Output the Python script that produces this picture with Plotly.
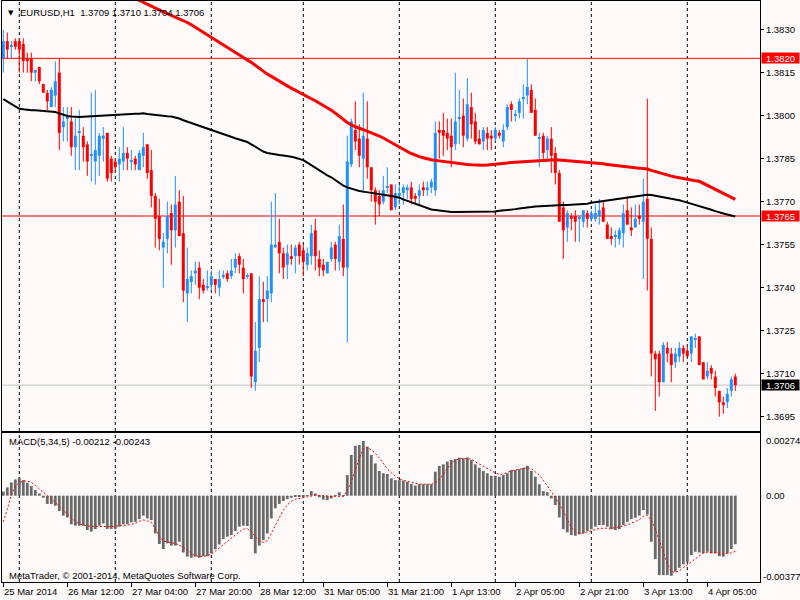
import pandas as pd
import plotly.graph_objects as go

FONT = "Liberation Sans"
SYMBOL_TITLE = "EURUSD,H1\u00a0 1.3709 1.3710 1.3704 1.3706"
MACD_TITLE = "MACD(5,34,5) -0.00212 -0.00243"
COPYRIGHT = "MetaTrader, © 2001-2014, MetaQuotes Software Corp."

# hourly bars shown on the chart (Friday closes 22:00, Monday opens 00:00)
SESSIONS = [("2014-03-25 20:00", "2014-03-28 22:00"),
            ("2014-03-31 00:00", "2014-04-04 12:00")]

OPEN = [
    1.3820, 1.3826, 1.3824, 1.3826, 1.3826, 1.3825, 1.3820, 1.3820, 1.3815, 1.3817,
    1.3811, 1.3808, 1.3803, 1.3807, 1.3815, 1.3796, 1.3799, 1.3798, 1.3789, 1.3794,
    1.3793, 1.3790, 1.3786, 1.3784, 1.3786, 1.3792, 1.3794, 1.3785, 1.3784, 1.3783,
    1.3784, 1.3787, 1.3784, 1.3785, 1.3781, 1.3786, 1.3790, 1.3781, 1.3772, 1.3765,
    1.3754, 1.3757, 1.3766, 1.3760, 1.3770, 1.3759, 1.3738, 1.3742, 1.3745, 1.3747,
    1.3741, 1.3740, 1.3741, 1.3743, 1.3740, 1.3744, 1.3745, 1.3744, 1.3747, 1.3751,
    1.3747, 1.3744, 1.3745, 1.3707, 1.3719, 1.3736, 1.3736, 1.3738, 1.3754, 1.3756,
    1.3752, 1.3748, 1.3751, 1.3751, 1.3755, 1.3753, 1.3748, 1.3751, 1.3760, 1.3750,
    1.3748, 1.3745, 1.3750, 1.3755, 1.3749, 1.3757, 1.3747, 1.3783, 1.3795, 1.3792,
    1.3785, 1.3792, 1.3782, 1.3774, 1.3772, 1.3770, 1.3775, 1.3776, 1.3768, 1.3772,
    1.3773, 1.3774, 1.3775, 1.3772, 1.3772, 1.3775, 1.3774, 1.3775, 1.3774, 1.3795,
    1.3795, 1.3794, 1.3793, 1.3790, 1.3799, 1.3800, 1.3792, 1.3803, 1.3798, 1.3792,
    1.3791, 1.3794, 1.3793, 1.3792, 1.3794, 1.3791, 1.3796, 1.3804, 1.3800, 1.3801,
    1.3806, 1.3807, 1.3809, 1.3802, 1.3792, 1.3793, 1.3788, 1.3792, 1.3787, 1.3780,
    1.3768, 1.3761, 1.3765, 1.3765, 1.3764, 1.3763, 1.3766, 1.3764, 1.3764, 1.3765,
    1.3768, 1.3762, 1.3758, 1.3758, 1.3757, 1.3759, 1.3767, 1.3761, 1.3761, 1.3765,
    1.3763, 1.3771, 1.3757, 1.3717, 1.3717, 1.3707, 1.3719, 1.3717, 1.3714, 1.3716,
    1.3719, 1.3718, 1.3717, 1.3722, 1.3723, 1.3714, 1.3709, 1.3712, 1.3709, 1.3704,
    1.3700, 1.3700, 1.3704, 1.3709,
]
HIGH = [
    1.3830, 1.3829, 1.3826, 1.3827, 1.3827, 1.3827, 1.3822, 1.3822, 1.3816, 1.3817,
    1.3811, 1.3809, 1.3810, 1.3819, 1.3820, 1.3803, 1.3803, 1.3803, 1.3799, 1.3802,
    1.3796, 1.3791, 1.3808, 1.3809, 1.3794, 1.3796, 1.3794, 1.3786, 1.3785, 1.3789,
    1.3796, 1.3789, 1.3788, 1.3786, 1.3788, 1.3794, 1.3790, 1.3788, 1.3773, 1.3771,
    1.3759, 1.3770, 1.3769, 1.3779, 1.3774, 1.3772, 1.3754, 1.3746, 1.3749, 1.3749,
    1.3743, 1.3746, 1.3746, 1.3743, 1.3746, 1.3746, 1.3746, 1.3750, 1.3752, 1.3752,
    1.3750, 1.3745, 1.3745, 1.3728, 1.3744, 1.3742, 1.3744, 1.3770, 1.3773, 1.3764,
    1.3754, 1.3755, 1.3755, 1.3755, 1.3756, 1.3755, 1.3754, 1.3762, 1.3764, 1.3753,
    1.3750, 1.3749, 1.3756, 1.3756, 1.3762, 1.3769, 1.3793, 1.3799, 1.3805, 1.3797,
    1.3808, 1.3805, 1.3782, 1.3775, 1.3774, 1.3779, 1.3782, 1.3776, 1.3776, 1.3776,
    1.3776, 1.3776, 1.3777, 1.3773, 1.3776, 1.3777, 1.3777, 1.3778, 1.3798, 1.3798,
    1.3801, 1.3799, 1.3799, 1.3815, 1.3809, 1.3806, 1.3813, 1.3808, 1.3801, 1.3795,
    1.3796, 1.3796, 1.3795, 1.3796, 1.3795, 1.3797, 1.3804, 1.3805, 1.3802, 1.3806,
    1.3811, 1.3820, 1.3811, 1.3806, 1.3794, 1.3794, 1.3793, 1.3796, 1.3789, 1.3781,
    1.3770, 1.3767, 1.3766, 1.3767, 1.3765, 1.3767, 1.3767, 1.3767, 1.3769, 1.3771,
    1.3770, 1.3763, 1.3761, 1.3760, 1.3761, 1.3769, 1.3772, 1.3768, 1.3769, 1.3769,
    1.3778, 1.3806, 1.3761, 1.3718, 1.3718, 1.3721, 1.3721, 1.3719, 1.3719, 1.3721,
    1.3720, 1.3720, 1.3723, 1.3724, 1.3723, 1.3714, 1.3714, 1.3713, 1.3711, 1.3704,
    1.3702, 1.3705, 1.3709, 1.3710,
]
LOW = [
    1.3815, 1.3820, 1.3820, 1.3823, 1.3815, 1.3815, 1.3815, 1.3812, 1.3812, 1.3811,
    1.3808, 1.3802, 1.3803, 1.3803, 1.3788, 1.3791, 1.3791, 1.3786, 1.3781, 1.3781,
    1.3784, 1.3779, 1.3777, 1.3776, 1.3779, 1.3784, 1.3777, 1.3777, 1.3780, 1.3777,
    1.3781, 1.3781, 1.3781, 1.3781, 1.3781, 1.3782, 1.3778, 1.3768, 1.3754, 1.3753,
    1.3740, 1.3752, 1.3748, 1.3754, 1.3758, 1.3735, 1.3728, 1.3738, 1.3741, 1.3736,
    1.3738, 1.3739, 1.3739, 1.3738, 1.3737, 1.3743, 1.3742, 1.3743, 1.3745, 1.3745,
    1.3738, 1.3743, 1.3705, 1.3704, 1.3714, 1.3728, 1.3728, 1.3735, 1.3754, 1.3745,
    1.3743, 1.3743, 1.3748, 1.3745, 1.3748, 1.3744, 1.3746, 1.3748, 1.3746, 1.3744,
    1.3744, 1.3745, 1.3749, 1.3746, 1.3746, 1.3744, 1.3721, 1.3782, 1.3788, 1.3782,
    1.3773, 1.3778, 1.3770, 1.3762, 1.3765, 1.3769, 1.3773, 1.3767, 1.3767, 1.3769,
    1.3769, 1.3771, 1.3769, 1.3769, 1.3769, 1.3772, 1.3772, 1.3773, 1.3772, 1.3785,
    1.3786, 1.3788, 1.3782, 1.3788, 1.3790, 1.3789, 1.3791, 1.3792, 1.3790, 1.3790,
    1.3788, 1.3788, 1.3788, 1.3791, 1.3792, 1.3789, 1.3795, 1.3798, 1.3798, 1.3799,
    1.3799, 1.3804, 1.3801, 1.3793, 1.3782, 1.3785, 1.3784, 1.3780, 1.3776, 1.3763,
    1.3750, 1.3756, 1.3760, 1.3756, 1.3756, 1.3761, 1.3761, 1.3763, 1.3763, 1.3762,
    1.3763, 1.3757, 1.3755, 1.3754, 1.3755, 1.3754, 1.3762, 1.3758, 1.3761, 1.3762,
    1.3743, 1.3739, 1.3709, 1.3697, 1.3702, 1.3707, 1.3714, 1.3707, 1.3712, 1.3714,
    1.3714, 1.3716, 1.3714, 1.3719, 1.3713, 1.3708, 1.3708, 1.3708, 1.3702, 1.3695,
    1.3696, 1.3698, 1.3702, 1.3704,
]
CLOSE = [
    1.3826, 1.3823, 1.3824, 1.3824, 1.3823, 1.3819, 1.3819, 1.3815, 1.3816, 1.3812,
    1.3808, 1.3805, 1.3809, 1.3812, 1.3794, 1.3798, 1.3799, 1.3789, 1.3793, 1.3794,
    1.3789, 1.3784, 1.3786, 1.3788, 1.3793, 1.3793, 1.3778, 1.3780, 1.3782, 1.3785,
    1.3787, 1.3785, 1.3784, 1.3783, 1.3787, 1.3789, 1.3780, 1.3772, 1.3764, 1.3757,
    1.3756, 1.3765, 1.3760, 1.3769, 1.3758, 1.3739, 1.3743, 1.3744, 1.3746, 1.3740,
    1.3739, 1.3740, 1.3744, 1.3741, 1.3743, 1.3744, 1.3743, 1.3746, 1.3750, 1.3748,
    1.3743, 1.3744, 1.3709, 1.3718, 1.3736, 1.3735, 1.3739, 1.3755, 1.3755, 1.3752,
    1.3747, 1.3752, 1.3750, 1.3754, 1.3751, 1.3749, 1.3752, 1.3759, 1.3751, 1.3747,
    1.3746, 1.3749, 1.3754, 1.3750, 1.3758, 1.3747, 1.3784, 1.3798, 1.3791, 1.3786,
    1.3793, 1.3782, 1.3774, 1.3770, 1.3769, 1.3774, 1.3775, 1.3767, 1.3773, 1.3773,
    1.3775, 1.3775, 1.3771, 1.3771, 1.3774, 1.3774, 1.3775, 1.3777, 1.3794, 1.3794,
    1.3793, 1.3792, 1.3789, 1.3798, 1.3799, 1.3793, 1.3804, 1.3797, 1.3791, 1.3790,
    1.3795, 1.3792, 1.3792, 1.3795, 1.3793, 1.3795, 1.3803, 1.3802, 1.3800, 1.3805,
    1.3806, 1.3810, 1.3801, 1.3793, 1.3792, 1.3787, 1.3792, 1.3786, 1.3780, 1.3763,
    1.3760, 1.3766, 1.3764, 1.3763, 1.3764, 1.3767, 1.3764, 1.3766, 1.3766, 1.3767,
    1.3763, 1.3757, 1.3757, 1.3758, 1.3760, 1.3766, 1.3762, 1.3760, 1.3764, 1.3764,
    1.3770, 1.3757, 1.3717, 1.3715, 1.3707, 1.3720, 1.3717, 1.3713, 1.3717, 1.3719,
    1.3717, 1.3716, 1.3723, 1.3722, 1.3713, 1.3708, 1.3711, 1.3710, 1.3705, 1.3700,
    1.3699, 1.3703, 1.3708, 1.3706,
]

# red moving average enters the visible window at bar 33
MA_RED = [None] * 33 + [
    1.38409, 1.38402, 1.38396, 1.38389, 1.38382, 1.38375, 1.38368,
    1.38362, 1.38356, 1.38350, 1.38343, 1.38337, 1.38331, 1.38325, 1.38317, 1.38308, 1.38299,
    1.38290, 1.38281, 1.38272, 1.38263, 1.38254, 1.38245, 1.38236, 1.38227, 1.38218, 1.38209,
    1.38201, 1.38194, 1.38186, 1.38175, 1.38164, 1.38153, 1.38145, 1.38137, 1.38128, 1.38120,
    1.38112, 1.38104, 1.38096, 1.38088, 1.38080, 1.38073, 1.38066, 1.38059, 1.38052, 1.38044,
    1.38036, 1.38028, 1.38019, 1.38009, 1.37998, 1.37986, 1.37976, 1.37968, 1.37961, 1.37956,
    1.37951, 1.37946, 1.37941, 1.37935, 1.37929, 1.37922, 1.37914, 1.37905, 1.37896, 1.37888,
    1.37881, 1.37875, 1.37868, 1.37862, 1.37857, 1.37853, 1.37849, 1.37846, 1.37844, 1.37842,
    1.37840, 1.37838, 1.37836, 1.37835, 1.37833, 1.37831, 1.37830, 1.37829, 1.37828, 1.37827,
    1.37827, 1.37828, 1.37829, 1.37830, 1.37832, 1.37833, 1.37835, 1.37837, 1.37838, 1.37839,
    1.37840, 1.37841, 1.37842, 1.37843, 1.37844, 1.37845, 1.37846, 1.37846, 1.37846, 1.37845,
    1.37844, 1.37843, 1.37842, 1.37841, 1.37840, 1.37839, 1.37838, 1.37836, 1.37835, 1.37833,
    1.37832, 1.37830, 1.37828, 1.37826, 1.37824, 1.37822, 1.37820, 1.37819, 1.37818, 1.37817,
    1.37816, 1.37814, 1.37809, 1.37805, 1.37800, 1.37795, 1.37792, 1.37789, 1.37786, 1.37783,
    1.37780, 1.37778, 1.37775, 1.37773, 1.37771, 1.37764, 1.37757, 1.37750, 1.37742, 1.37735,
    1.37728, 1.37721, 1.37714, 1.37708,
]
MA_BLACK = [
    1.38058, 1.38050, 1.38042, 1.38032, 1.38024, 1.38022, 1.38020, 1.38019, 1.38019, 1.38018,
    1.38017, 1.38016, 1.38015, 1.38013, 1.38008, 1.38003, 1.37999, 1.37997, 1.37995, 1.37995,
    1.37996, 1.37997, 1.37998, 1.37999, 1.38000, 1.38001, 1.38002, 1.38003, 1.38003, 1.38004,
    1.38005, 1.38005, 1.38006, 1.38007, 1.38007, 1.38008, 1.38006, 1.38004, 1.38002, 1.38000,
    1.37999, 1.37998, 1.37997, 1.37994, 1.37990, 1.37984, 1.37979, 1.37974, 1.37969, 1.37965,
    1.37960, 1.37955, 1.37950, 1.37945, 1.37940, 1.37935, 1.37931, 1.37926, 1.37921, 1.37917,
    1.37913, 1.37908, 1.37900, 1.37892, 1.37884, 1.37875, 1.37870, 1.37867, 1.37865, 1.37863,
    1.37861, 1.37860, 1.37857, 1.37853, 1.37849, 1.37845, 1.37836, 1.37827, 1.37817, 1.37808,
    1.37800, 1.37792, 1.37785, 1.37775, 1.37766, 1.37756, 1.37750, 1.37746, 1.37740, 1.37737,
    1.37735, 1.37733, 1.37731, 1.37730, 1.37727, 1.37725, 1.37722, 1.37720, 1.37717, 1.37714,
    1.37708, 1.37703, 1.37697, 1.37692, 1.37687, 1.37682, 1.37677, 1.37673, 1.37671, 1.37669,
    1.37666, 1.37664, 1.37664, 1.37664, 1.37664, 1.37664, 1.37664, 1.37664, 1.37664, 1.37664,
    1.37664, 1.37664, 1.37665, 1.37666, 1.37668, 1.37669, 1.37670, 1.37672, 1.37674, 1.37676,
    1.37677, 1.37679, 1.37681, 1.37683, 1.37684, 1.37685, 1.37686, 1.37687, 1.37688, 1.37688,
    1.37688, 1.37688, 1.37689, 1.37689, 1.37689, 1.37690, 1.37693, 1.37696, 1.37698, 1.37700,
    1.37702, 1.37704, 1.37706, 1.37708, 1.37710, 1.37713, 1.37715, 1.37717, 1.37719, 1.37721,
    1.37722, 1.37724, 1.37723, 1.37721, 1.37719, 1.37716, 1.37713, 1.37710, 1.37708, 1.37705,
    1.37701, 1.37697, 1.37694, 1.37690, 1.37686, 1.37682, 1.37677, 1.37672, 1.37667, 1.37662,
    1.37659, 1.37655, 1.37651, 1.37648,
]

MACD_MAIN = [
    0.00018, 0.00036, 0.00058, 0.00071, 0.00079, 0.00068, 0.00057, 0.00042, 0.00025, 0.00010,
    -0.00009, -0.00036, -0.00036, -0.00044, -0.00067, -0.00087, -0.00095, -0.00125, -0.00131, -0.00131,
    -0.00132, -0.00150, -0.00157, -0.00146, -0.00131, -0.00121, -0.00145, -0.00145, -0.00145, -0.00135,
    -0.00125, -0.00124, -0.00116, -0.00114, -0.00102, -0.00087, -0.00099, -0.00106, -0.00165, -0.00211,
    -0.00233, -0.00208, -0.00218, -0.00218, -0.00201, -0.00248, -0.00266, -0.00271, -0.00266, -0.00271,
    -0.00264, -0.00264, -0.00252, -0.00234, -0.00213, -0.00189, -0.00179, -0.00172, -0.00154, -0.00135,
    -0.00131, -0.00132, -0.00189, -0.00252, -0.00218, -0.00194, -0.00165, -0.00099, -0.00055, -0.00036,
    -0.00023, -0.00015, -0.00009, -0.00004, -0.00003, -0.00002, 0.00001, 0.00020, 0.00010, -0.00007,
    -0.00017, -0.00019, -0.00012, 0.00002, 0.00015, 0.00001, 0.00090, 0.00178, 0.00218, 0.00221,
    0.00239, 0.00214, 0.00178, 0.00141, 0.00108, 0.00098, 0.00095, 0.00076, 0.00068, 0.00068,
    0.00066, 0.00061, 0.00051, 0.00044, 0.00050, 0.00050, 0.00050, 0.00050, 0.00105, 0.00130,
    0.00137, 0.00149, 0.00156, 0.00160, 0.00166, 0.00163, 0.00167, 0.00156, 0.00137, 0.00122,
    0.00108, 0.00098, 0.00087, 0.00087, 0.00083, 0.00090, 0.00098, 0.00112, 0.00112, 0.00116,
    0.00122, 0.00131, 0.00108, 0.00083, 0.00050, 0.00020, 0.00015, -0.00012, -0.00041, -0.00095,
    -0.00146, -0.00160, -0.00172, -0.00175, -0.00169, -0.00165, -0.00154, -0.00146, -0.00135, -0.00128,
    -0.00128, -0.00135, -0.00147, -0.00150, -0.00146, -0.00128, -0.00114, -0.00102, -0.00096, -0.00087,
    -0.00063, -0.00082, -0.00201, -0.00277, -0.00347, -0.00347, -0.00347, -0.00350, -0.00332, -0.00315,
    -0.00300, -0.00291, -0.00259, -0.00245, -0.00248, -0.00252, -0.00245, -0.00252, -0.00252, -0.00264,
    -0.00266, -0.00252, -0.00233, -0.00212,
]
MACD_SIGNAL = [
    -0.00114, -0.00060, 0.00005, 0.00040, 0.00058, 0.00064, 0.00064, 0.00058, 0.00046, 0.00029,
    0.00014, 0.00002, -0.00013, -0.00028, -0.00046, -0.00062, -0.00080, -0.00096, -0.00113, -0.00123,
    -0.00129, -0.00132, -0.00134, -0.00135, -0.00135, -0.00136, -0.00135, -0.00135, -0.00134, -0.00133,
    -0.00131, -0.00128, -0.00125, -0.00121, -0.00112, -0.00106, -0.00110, -0.00116, -0.00145, -0.00175,
    -0.00198, -0.00203, -0.00206, -0.00208, -0.00215, -0.00225, -0.00236, -0.00252, -0.00263, -0.00265,
    -0.00265, -0.00262, -0.00255, -0.00242, -0.00228, -0.00212, -0.00196, -0.00182, -0.00172, -0.00158,
    -0.00146, -0.00144, -0.00158, -0.00178, -0.00198, -0.00204, -0.00196, -0.00164, -0.00128, -0.00092,
    -0.00063, -0.00040, -0.00025, -0.00016, -0.00012, -0.00008, -0.00005, -0.00001, 0.00002, 0.00001,
    -0.00001, -0.00003, -0.00004, -0.00004, -0.00003, -0.00004, 0.00025, 0.00060, 0.00112, 0.00165,
    0.00205, 0.00212, 0.00200, 0.00185, 0.00165, 0.00138, 0.00117, 0.00100, 0.00085, 0.00073,
    0.00067, 0.00063, 0.00058, 0.00054, 0.00050, 0.00050, 0.00050, 0.00050, 0.00057, 0.00070,
    0.00093, 0.00118, 0.00142, 0.00155, 0.00161, 0.00163, 0.00163, 0.00160, 0.00148, 0.00138,
    0.00127, 0.00118, 0.00107, 0.00100, 0.00093, 0.00094, 0.00102, 0.00108, 0.00113, 0.00116,
    0.00119, 0.00122, 0.00118, 0.00105, 0.00090, 0.00068, 0.00045, 0.00018, -0.00010, -0.00036,
    -0.00068, -0.00105, -0.00138, -0.00158, -0.00165, -0.00163, -0.00158, -0.00154, -0.00148, -0.00143,
    -0.00142, -0.00143, -0.00142, -0.00140, -0.00136, -0.00133, -0.00128, -0.00120, -0.00112, -0.00105,
    -0.00090, -0.00085, -0.00108, -0.00145, -0.00195, -0.00250, -0.00296, -0.00332, -0.00335, -0.00328,
    -0.00315, -0.00305, -0.00290, -0.00275, -0.00262, -0.00250, -0.00247, -0.00248, -0.00248, -0.00250,
    -0.00255, -0.00254, -0.00250, -0.00243,
]

TIME_LABELS = [
    ("2014-03-25 20:00", "25 Mar 2014"), ("2014-03-26 12:00", "26 Mar 12:00"),
    ("2014-03-27 04:00", "27 Mar 04:00"), ("2014-03-27 20:00", "27 Mar 20:00"),
    ("2014-03-28 12:00", "28 Mar 12:00"), ("2014-03-31 05:00", "31 Mar 05:00"),
    ("2014-03-31 21:00", "31 Mar 21:00"), ("2014-04-01 13:00", "1 Apr 13:00"),
    ("2014-04-02 05:00", "2 Apr 05:00"), ("2014-04-02 21:00", "2 Apr 21:00"),
    ("2014-04-03 13:00", "3 Apr 13:00"), ("2014-04-04 05:00", "4 Apr 05:00"),
]
PRICE_TICKS = [1.3695, 1.3710, 1.3725, 1.3740, 1.3755, 1.3770, 1.3785, 1.3800, 1.3815, 1.3830]
LEVEL_LINES = [1.3820, 1.3765]
LAST_PRICE = 1.3706
MACD_LABELS = [0.00274, 0.0, -0.00377]
MACD_LABEL_TEXT = ["0.00274", "0.00", "-0.00377"]

BULL = "#1E90FF"
BEAR = "#FF0000"
BG = "#FFFAFA"

times = []
for start, end in SESSIONS:
    times.extend(pd.date_range(start, end, freq="h"))
bars = list(range(len(times)))
day_starts = [i for i, t in enumerate(times) if t.hour == 0]
label_pos = {pd.Timestamp(t): i for i, t in enumerate(times)}
label_bars = [label_pos[pd.Timestamp(t)] for t, _ in TIME_LABELS]

fig = go.Figure()

# candle wicks and bodies, split by direction
for up, color in ((True, BULL), (False, BEAR)):
    idx = [i for i in bars if (CLOSE[i] >= OPEN[i]) == up]
    wx, wy = [], []
    for i in idx:
        wx += [i, i, None]
        wy += [LOW[i], HIGH[i], None]
    fig.add_trace(go.Scatter(x=wx, y=wy, mode="lines", line=dict(color=color, width=1),
                             hoverinfo="skip", xaxis="x", yaxis="y"))
    fig.add_trace(go.Bar(
        x=idx,
        base=[min(OPEN[i], CLOSE[i]) for i in idx],
        y=[max(abs(CLOSE[i] - OPEN[i]), 0.00004) for i in idx],
        width=0.75, marker=dict(color=color, line=dict(width=0)),
        xaxis="x", yaxis="y",
    ))

fig.add_trace(go.Scatter(x=bars, y=MA_BLACK, mode="lines", line=dict(color="black", width=2),
                         xaxis="x", yaxis="y"))
fig.add_trace(go.Scatter(x=bars, y=MA_RED, mode="lines", line=dict(color="red", width=3),
                         xaxis="x", yaxis="y"))

fig.add_trace(go.Bar(x=bars, y=MACD_MAIN, width=0.7, marker=dict(color="#696969", line=dict(width=0)),
                     xaxis="x2", yaxis="y2"))
fig.add_trace(go.Scatter(x=bars, y=MACD_SIGNAL, mode="lines",
                         line=dict(color="red", width=1, dash="2px,2px"), xaxis="x2", yaxis="y2"))

shapes = []
for d in day_starts:
    for xr, yr in (("x", "y domain"), ("x2", "y2 domain")):
        shapes.append(dict(type="line", xref=xr, yref=yr, x0=d, x1=d, y0=0, y1=1, layer="below",
                           line=dict(color="black", width=1, dash="3px,3px")))
for lvl in LEVEL_LINES:
    shapes.append(dict(type="line", xref="x domain", yref="y", x0=0, x1=1, y0=lvl, y1=lvl,
                       layer="below", line=dict(color="red", width=1)))
shapes.append(dict(type="line", xref="x domain", yref="y", x0=0, x1=1, y0=LAST_PRICE, y1=LAST_PRICE,
                   layer="below", line=dict(color="#C0C0C0", width=1)))

txt = dict(family=FONT, size=9.5, color="black")
annotations = [
    dict(text="▼", x=0, y=1, xref="paper", yref="paper", xanchor="left", yanchor="top",
         xshift=4, yshift=-6, showarrow=False, font=dict(family="DejaVu Sans", size=7, color="black")),
    dict(text=SYMBOL_TITLE, x=0, y=1, xref="paper", yref="paper", xanchor="left", yanchor="top",
         xshift=16, yshift=-4, showarrow=False, font=txt),
    dict(text=MACD_TITLE, x=0, y=1, xref="paper", yref="y2 domain", xanchor="left", yanchor="middle",
         xshift=5, yshift=-9, showarrow=False, font=txt),
    dict(text=COPYRIGHT, x=0, y=0, xref="paper", yref="y2 domain", xanchor="left", yanchor="middle",
         xshift=5, yshift=7, showarrow=False, font=txt),
]
for (t, label), pos in zip(TIME_LABELS, label_bars):
    annotations.append(dict(text=label, x=pos, y=0, xref="x2", yref="paper",
                            xanchor="left", yanchor="middle", xshift=-1.5, yshift=-9.5,
                            showarrow=False, font=txt))
# MT4 draws the scale extremes a few pixels inside the panel
for val, label, dy, dx in zip(MACD_LABELS, MACD_LABEL_TEXT, (-7.5, 0, 6), (4, 4, 1)):
    annotations.append(dict(text=label, x=1, y=val, xref="paper", yref="y2", xanchor="left",
                            yanchor="middle", xshift=dx, yshift=dy, showarrow=False, font=txt))
for lvl, bg in ((LEVEL_LINES[0], "red"), (LEVEL_LINES[1], "red"), (LAST_PRICE, "black")):
    annotations.append(dict(text=f"{lvl:.4f}", x=1, y=lvl, xref="paper", yref="y", xanchor="left",
                            yanchor="middle", xshift=1, showarrow=False, bgcolor=bg, width=37,
                            height=10, borderpad=0, font=dict(family=FONT, size=9.5, color="white")))

axis_common = dict(showline=True, mirror=True, linecolor="black", linewidth=1,
                   showgrid=False, zeroline=False)
fig.update_layout(
    width=800, height=600,
    margin=dict(l=2, r=40, t=1, b=18),
    paper_bgcolor=BG, plot_bgcolor=BG,
    showlegend=False, barmode="overlay",
    xaxis=dict(domain=[0, 1], range=[-0.325, 189.175], anchor="y", showticklabels=False,
               ticks="", **axis_common),
    xaxis2=dict(domain=[0, 1], matches="x", anchor="y2", showticklabels=False,
                tickvals=label_bars, ticks="outside", ticklen=4, tickcolor="black",
                **axis_common),
    yaxis=dict(domain=[0.2599, 1], range=[1.3690, 1.3840], side="right", anchor="x",
               tickvals=PRICE_TICKS, tickformat=".4f", ticks="outside", ticklen=3,
               tickcolor="black", tickfont=txt, **axis_common),
    yaxis2=dict(domain=[0, 0.2565], range=[-0.00377, 0.00274], side="right", anchor="x2",
                showticklabels=False, ticks="", **axis_common),
    shapes=shapes,
    annotations=annotations,
)

# the page's default body margin would shift the whole chart by 8px
fig.write_html("out.html", config={"displayModeBar": False},
               post_script="document.body.style.margin='0';")
